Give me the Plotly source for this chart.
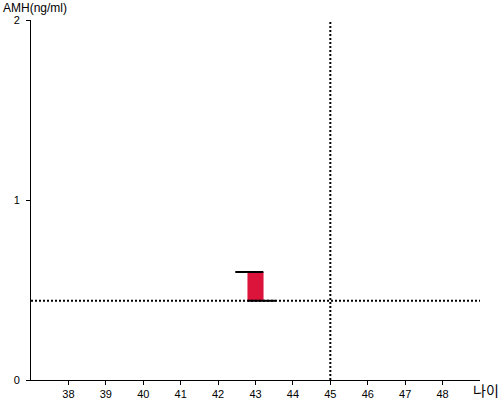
import plotly.graph_objects as go

# data
ages = [43]
amh_low = [0.44]
amh_high = [0.6]
ref_age = 45
ref_amh = 0.44
x_ticks = list(range(38, 49))
y_ticks = [0, 1, 2]

fnt = "Arial, Liberation Sans, Noto Sans CJK KR, sans-serif"

fig = go.Figure()

# red bar from low to high
fig.add_trace(go.Bar(
    x=ages, y=[h - l for h, l in zip(amh_high, amh_low)], base=amh_low,
    width=0.43, marker_color="#DC143C", marker_line_width=0, showlegend=False))

# top tick (extends left) and bottom tick (extends right)
for a, lo, hi in zip(ages, amh_low, amh_high):
    fig.add_trace(go.Scatter(x=[a - 0.54, a + 0.21], y=[hi, hi], mode="lines",
                             line=dict(color="black", width=2), showlegend=False))
    fig.add_trace(go.Scatter(x=[a - 0.21, a + 0.54], y=[lo, lo], mode="lines",
                             line=dict(color="black", width=2), showlegend=False))

# reference lines
fig.add_trace(go.Scatter(x=[37, 49], y=[ref_amh, ref_amh], mode="lines",
                         line=dict(color="black", width=2, dash="2px,2px"), showlegend=False))
fig.add_trace(go.Scatter(x=[ref_age, ref_age], y=[0, 2], mode="lines",
                         line=dict(color="black", width=2, dash="2px,2px"), showlegend=False))

fig.update_layout(
    width=500, height=400,
    margin=dict(l=31, r=20, t=20, b=20, autoexpand=False),
    plot_bgcolor="white", paper_bgcolor="white",
    font=dict(family=fnt, size=11, color="black"),
    xaxis=dict(range=[37, 49], tickvals=x_ticks, showgrid=False, zeroline=False,
               showline=True, linecolor="black", linewidth=1, automargin=False,
               ticks="outside", ticklen=4, tickcolor="black"),
    yaxis=dict(range=[0, 2], tickvals=y_ticks, showgrid=False, zeroline=False,
               showline=True, linecolor="black", linewidth=1, automargin=False,
               ticks="outside", ticklen=4, tickcolor="black", ticklabelstandoff=4),
    annotations=[
        dict(text="AMH(ng/ml)", xref="paper", yref="paper", x=0, y=1,
             xanchor="left", yanchor="bottom", xshift=-30, yshift=3,
             showarrow=False, font=dict(size=12)),
        dict(text="나이", xref="paper", yref="paper", x=1, y=0,
             xanchor="left", yanchor="top", xshift=-9, yshift=-1,
             showarrow=False, font=dict(size=14)),
    ],
)

# page body has a default 8px margin, drop it so the figure sits at 0,0
fig.write_html("out.html", config={"displayModeBar": False},
               post_script="document.body.style.margin='0';")
